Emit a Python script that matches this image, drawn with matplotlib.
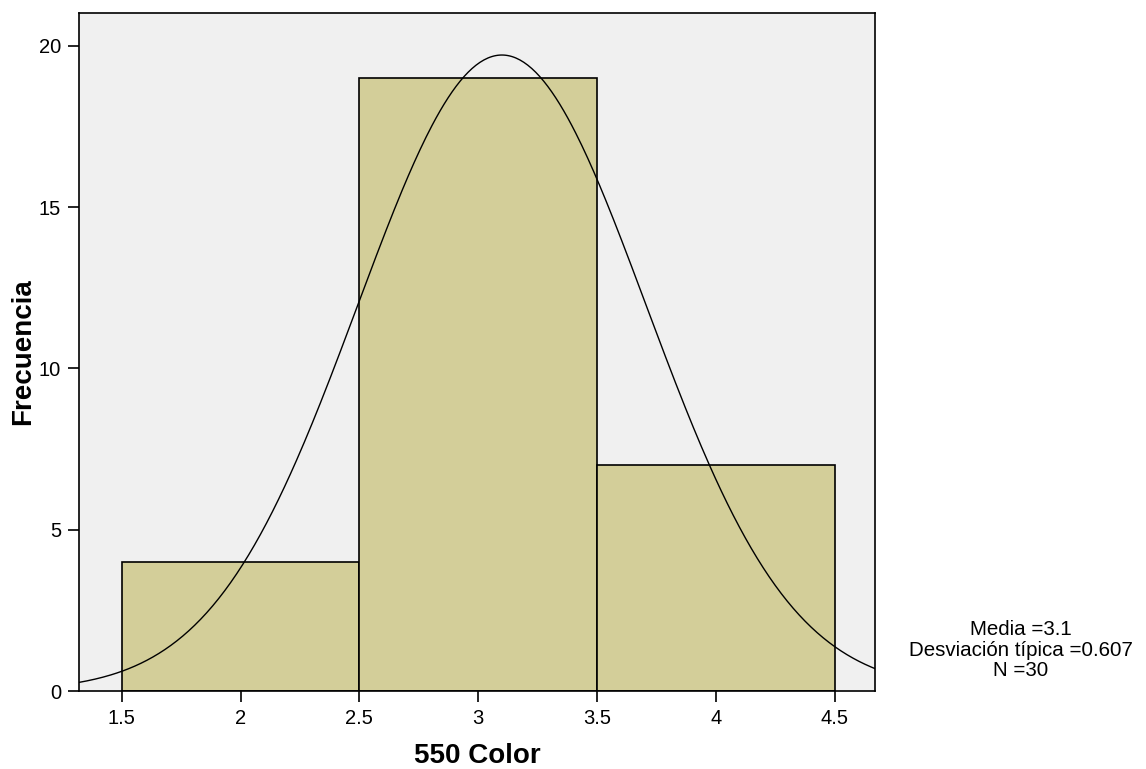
import numpy as np
import matplotlib.pyplot as plt

# histogram of "550 Color" (SPSS style)
bin_edges = [1.5, 2.5, 3.5, 4.5]
counts = [4, 19, 7]
mean = 3.1
std = 0.607
n = 30

plt.rcParams["font.family"] = ["Liberation Sans", "DejaVu Sans"]

fig = plt.figure(figsize=(11.46, 7.69), dpi=100)
ax = fig.add_axes([0.0689, 0.1014, 0.6946, 0.8817])
ax.set_facecolor("#F0F0F0")

ax.bar(bin_edges[:-1], counts, width=np.diff(bin_edges), align="edge",
       color="#D3CE99", edgecolor="black", linewidth=1.2, zorder=2)

xmin, xmax = 1.32, 4.67
xs = np.linspace(xmin, xmax, 400)
binw = bin_edges[1] - bin_edges[0]
ys = n * binw / (std * np.sqrt(2 * np.pi)) * np.exp(-0.5 * ((xs - mean) / std) ** 2)
ax.plot(xs, ys, color="black", linewidth=1.0, zorder=3)

ax.set_xlim(xmin, xmax)
ax.set_ylim(0, 21.02)
ax.set_xticks([1.5, 2, 2.5, 3, 3.5, 4, 4.5])
ax.set_xticklabels(["1.5", "2", "2.5", "3", "3.5", "4", "4.5"])
ax.set_yticks([0, 5, 10, 15, 20])
ax.tick_params(direction="out", length=8, width=1.2, labelsize=14.5, pad=5)
for s in ax.spines.values():
    s.set_linewidth(1.2)

ax.set_xlabel("550 Color", fontsize=20, fontweight="bold", labelpad=11)
ax.set_ylabel("Frecuencia", fontsize=20, fontweight="bold", labelpad=2)

fig.text(1021 / 1146, 1 - 650 / 769,
         "Media =3.1\nDesviación típica =0.607\nN =30",
         ha="center", va="center", fontsize=14.8, linespacing=1.1)

fig.savefig("out.png", dpi=100, facecolor="white")
